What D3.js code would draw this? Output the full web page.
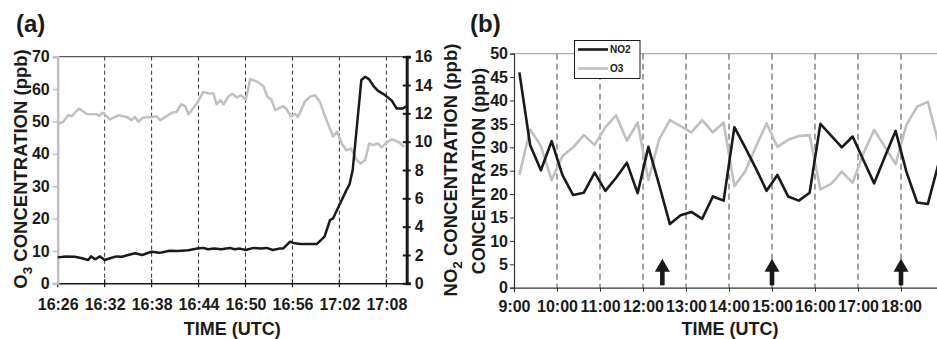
<!DOCTYPE html>
<html><head><meta charset="utf-8">
<script src="https://cdn.jsdelivr.net/npm/d3@7/dist/d3.min.js"></script>
<style>
body{margin:0;background:#fff;}
svg text{font-family:"Liberation Sans",Arial,sans-serif;font-weight:bold;fill:#1a1a1a;}
</style></head>
<body><svg id="c" width="937" height="339"></svg>
<script>
// ---------- Panel (a) data ----------
const startA = "16:26";
const ticksA = ["16:26","16:32","16:38","16:44","16:50","16:56","17:02","17:08"];
const endA_min = 44.6;
// O3 (left axis, ppb): minutes after 16:26, values
const o3A_t = [0,0.72,1.36,1.78,2.72,3.7,4.98,5.32,5.74,6.68,7.74,8.81,9.45,9.87,10.3,10.9,12.0,12.6,13.1,13.9,14.6,15.2,15.8,16.3,16.7,17.8,18.6,19.4,19.9,20.3,20.8,21.2,21.8,22.3,22.9,23.4,24.05,24.6,25.4,26.3,26.8,27.3,27.8,28.8,29.2,29.8,30.3,30.7,31.6,32.2,32.9,33.5,34.1,34.6,35.2,35.7,36.3,36.9,37.5,38.2,38.7,39.3,39.8,40.3,40.9,41.4,42.0,42.7,43.5,44.3];
const o3A_v = [49.2,49.9,51.9,51.6,54.0,52.3,52.2,51.7,52.7,50.6,51.9,51.4,50.4,51.4,49.9,51.2,51.4,51.6,50.4,51.6,52.7,53.0,55.3,54.7,52.2,55.6,59.1,58.6,58.6,55.3,56.6,55.3,57.6,58.6,57.4,58.1,56.8,63.1,62.4,60.9,57.6,56.8,53.5,54.7,54.0,51.6,52.4,51.4,56.2,57.6,58.1,56.1,52.0,48.9,45.3,46.8,43.2,41.1,41.6,38.1,37.0,38.1,43.2,42.7,43.2,42.0,43.4,44.5,43.7,42.2];
// NO2 (right axis, ppb)
const no2A_t = [0,1.0,2.2,3.1,3.9,4.25,4.8,5.4,6.0,6.7,7.5,8.2,9.0,9.9,10.8,12.0,13.0,13.7,14.3,15.4,16.7,18.0,18.6,19.2,20.0,20.9,22.0,22.6,23.3,24.05,25.0,26.0,26.7,27.5,28.3,28.8,29.7,30.1,31.0,32.0,33.1,34.1,34.8,35.2,36.1,36.9,37.3,37.7,38.8,39.3,39.8,40.4,40.9,41.8,42.7,43.3,44.1,44.6];
const no2A_v = [1.83,1.9,1.88,1.77,1.65,1.9,1.7,1.9,1.65,1.77,1.9,1.88,2.0,2.12,2.0,2.23,2.15,2.23,2.3,2.28,2.33,2.47,2.5,2.4,2.45,2.4,2.5,2.4,2.45,2.35,2.5,2.45,2.5,2.35,2.45,2.45,2.94,2.85,2.77,2.77,2.77,3.29,4.47,4.59,5.65,6.58,7.0,8.0,14.35,14.58,14.4,13.9,13.6,13.3,12.9,12.35,12.35,12.5];
const yTicksA_left = [0,10,20,30,40,50,60,70];
const yTicksA_right = [0,2,4,6,8,10,12,14,16];

// ---------- Panel (b) data ----------
const timesB = ["9:00","9:15","9:30","9:45","10:00","10:15","10:30","10:45","11:00","11:15","11:30","11:45","12:00","12:15","12:30","12:45","13:00","13:15","13:30","13:45","14:00","14:15","14:30","14:45","15:00","15:15","15:30","15:45","16:00","16:15","16:30","16:45","17:00","17:15","17:30","17:45","18:00","18:15","18:30","18:45"];
const no2B = [46,30.5,25.1,31.3,24.1,19.8,20.3,24.6,20.7,23.5,26.7,20.2,30.1,22,13.6,15.5,16.2,14.7,19.5,18.6,34.3,30,25.5,20.7,24.1,19.5,18.6,20.3,35.0,32.5,30.0,32.3,27.3,22.3,28.0,33.5,24.8,18.2,17.9,26.6];
const o3B = [24.1,33.8,30.3,23.0,28.1,30.0,32.6,30.5,34.3,36.8,31.4,35.3,23.0,31.7,35.8,34.5,33.2,35.8,33.2,35.3,21.7,24.8,30.1,35.1,30.1,31.6,32.4,32.6,21.0,22.2,24.8,22.4,28.7,33.7,30.1,26.4,34.8,38.7,39.7,30.8];
const ticksB = ["9:00","10:00","11:00","12:00","13:00","14:00","15:00","16:00","17:00","18:00"];
const gridB = ["10:00","11:00","12:00","13:00","14:00","15:00","16:00","17:00","18:00"];
const yTicksB = [0,5,10,15,20,25,30,35,40,45,50];
const arrowsB = ["12:27","15:00","18:00"];
const legendB = ["NO2","O3"];

const svg = d3.select("#c");
const GRAY = "#c0c0c0", BLACK = "#1a1a1a";
const parse = d3.timeParse("%H:%M");
const fmt = d3.timeFormat("%H:%M");

// ================= Panel (a) =================
{
  const g = svg.append("g");
  const t0 = parse(startA);
  const toDate = m => new Date(t0.getTime() + m*60000);
  const x = d3.scaleTime().domain([t0, toDate(endA_min)]).range([57.7, 406.7]);
  const yL = d3.scaleLinear().domain([0,70]).range([283.3, 56.7]);
  const yR = d3.scaleLinear().domain([0,16]).range([283.3, 56.7]);

  g.append("text").attr("x",16).attr("y",32).attr("font-size",24).text("(a)");

  g.append("line").attr("x1",x.range()[0]).attr("x2",x.range()[1]).attr("y1",yL(70)).attr("y2",yL(70))
    .attr("stroke","#333").attr("stroke-width",1);

  g.selectAll(".ga").data(ticksA.slice(1)).join("line")
    .attr("x1",d=>x(parse(d))).attr("x2",d=>x(parse(d)))
    .attr("y1",yL(70)).attr("y2",yL(0))
    .attr("stroke","#333").attr("stroke-width",1).attr("stroke-dasharray","4,3");

  const xa = g.append("g").attr("transform",`translate(0,${yL(0)})`)
    .call(d3.axisBottom(x).tickValues(ticksA.map(parse)).tickFormat(fmt).tickSize(0).tickPadding(15));
  xa.select(".domain").attr("stroke",BLACK).attr("stroke-width",1.5);
  xa.selectAll("text").attr("font-size",16).attr("fill",BLACK);
  g.selectAll(".xta").data(ticksA).join("line")
    .attr("x1",d=>x(parse(d))).attr("x2",d=>x(parse(d)))
    .attr("y1",yL(0)-4).attr("y2",yL(0)+4).attr("stroke",BLACK).attr("stroke-width",1.2);

  const la = g.append("g").attr("transform",`translate(${x.range()[0]},0)`)
    .call(d3.axisLeft(yL).tickValues(yTicksA_left).tickSize(5).tickPadding(3));
  la.select(".domain").attr("stroke",GRAY).attr("stroke-width",2.5);
  la.selectAll(".tick line").attr("stroke",GRAY).attr("stroke-width",1.5);
  la.selectAll("text").attr("font-size",16).attr("fill",BLACK);

  const ra = g.append("g").attr("transform",`translate(${x.range()[1]},0)`)
    .call(d3.axisRight(yR).tickValues(yTicksA_right).tickSize(4).tickPadding(4));
  ra.select(".domain").attr("stroke",BLACK).attr("stroke-width",3);
  ra.selectAll(".tick line").attr("x1",-4).attr("stroke",BLACK).attr("stroke-width",2);
  ra.selectAll("text").attr("font-size",16).attr("fill",BLACK);

  const o3 = o3A_t.map((t,i)=>({t:toDate(t), v:o3A_v[i]}));
  const no2 = no2A_t.map((t,i)=>({t:toDate(t), v:no2A_v[i]}));
  g.append("path").datum(o3).attr("fill","none").attr("stroke",GRAY).attr("stroke-width",2.5)
    .attr("stroke-linejoin","round")
    .attr("d", d3.line().x(d=>x(d.t)).y(d=>yL(d.v)));
  g.append("path").datum(no2).attr("fill","none").attr("stroke",BLACK).attr("stroke-width",2.5)
    .attr("stroke-linejoin","round")
    .attr("d", d3.line().x(d=>x(d.t)).y(d=>yR(d.v)));

  g.append("text").attr("x",(x.range()[0]+x.range()[1])/2).attr("y",335).attr("text-anchor","middle")
    .attr("font-size",18).text("TIME (UTC)");
  const tl = g.append("text").attr("transform","translate(27,169) rotate(-90)").attr("text-anchor","middle").attr("font-size",18.5);
  tl.append("tspan").text("O");
  tl.append("tspan").attr("dy",5).attr("font-size",13.5).text("3");
  tl.append("tspan").attr("dy",-5).text(" CONCENTRATION (ppb)");
  const tr = g.append("text").attr("transform","translate(457,170) rotate(-90)").attr("text-anchor","middle").attr("font-size",18.5);
  tr.append("tspan").text("NO");
  tr.append("tspan").attr("dy",5).attr("font-size",13.5).text("2");
  tr.append("tspan").attr("dy",-5).text(" CONCENTRATION (ppb)");
}

// ================= Panel (b) =================
{
  const g = svg.append("g");
  const x = d3.scaleTime().domain([parse("9:00"), parse("19:00")]).range([514, 944]);
  const y = d3.scaleLinear().domain([0,50]).range([287.7, 53.7]);
  const half = 7.5*60000;
  const xc = s => x(new Date(parse(s).getTime()+half));

  g.append("text").attr("x",470).attr("y",32).attr("font-size",24).text("(b)");

  g.append("line").attr("x1",514).attr("x2",937).attr("y1",y(50)).attr("y2",y(50))
    .attr("stroke","#999").attr("stroke-width",1);

  g.selectAll(".gb").data(gridB).join("line")
    .attr("x1",d=>x(parse(d))).attr("x2",d=>x(parse(d)))
    .attr("y1",y(50)).attr("y2",y(0))
    .attr("stroke","#444").attr("stroke-width",1).attr("stroke-dasharray","6,4");

  const xa = g.append("g").attr("transform",`translate(0,${y(0)})`)
    .call(d3.axisBottom(x).tickValues(ticksB.map(parse)).tickFormat(d=>d3.timeFormat("%-H:%M")(d)).tickSize(4).tickPadding(9));
  xa.select(".domain").attr("stroke","#333").attr("stroke-width",1.2);
  xa.selectAll(".tick line").attr("stroke","#333");
  xa.selectAll("text").attr("font-size",16).attr("fill",BLACK);

  const ya = g.append("g").attr("transform",`translate(514,0)`)
    .call(d3.axisLeft(y).tickValues(yTicksB).tickSize(4).tickPadding(2));
  ya.select(".domain").attr("stroke","#333").attr("stroke-width",1.2);
  ya.selectAll(".tick line").attr("stroke","#333");
  ya.selectAll("text").attr("font-size",16).attr("fill",BLACK);

  const line = d3.line().x(d=>xc(d.t)).y(d=>y(d.v));
  g.append("path").datum(timesB.map((t,i)=>({t, v:o3B[i]}))).attr("fill","none")
    .attr("stroke",GRAY).attr("stroke-width",2.6).attr("stroke-linejoin","round").attr("d",line);
  g.append("path").datum(timesB.map((t,i)=>({t, v:no2B[i]}))).attr("fill","none")
    .attr("stroke",BLACK).attr("stroke-width",2.6).attr("stroke-linejoin","round").attr("d",line);

  arrowsB.forEach(a=>{
    const ax = x(parse(a));
    const ag = g.append("g");
    ag.append("rect").attr("x",ax-2.3).attr("y",y(3.7)).attr("width",4.6).attr("height",y(0.5)-y(3.7)).attr("fill",BLACK);
    ag.append("path").attr("fill",BLACK)
      .attr("d",`M${ax},${y(6.2)} L${ax+7.5},${y(3.4)} L${ax-7.5},${y(3.4)} Z`);
  });

  const lg = g.append("g");
  lg.append("rect").attr("x",574.5).attr("y",40.5).attr("width",65.5).attr("height",38)
    .attr("fill","#fff").attr("stroke",BLACK).attr("stroke-width",1);
  legendB.forEach((name,i)=>{
    const ly = 49.5 + i*19;
    lg.append("line").attr("x1",578).attr("x2",608).attr("y1",ly).attr("y2",ly)
      .attr("stroke", i===0?BLACK:GRAY).attr("stroke-width",2.6);
    lg.append("text").attr("x",610).attr("y",ly+3.5).attr("font-size",10).text(name);
  });

  g.append("text").attr("x",730).attr("y",335).attr("text-anchor","middle").attr("font-size",18).text("TIME (UTC)");
  g.append("text").attr("transform","translate(485,171) rotate(-90)").attr("text-anchor","middle")
    .attr("font-size",18).text("CONCENTRATION (ppb)");
}
</script></body></html>
